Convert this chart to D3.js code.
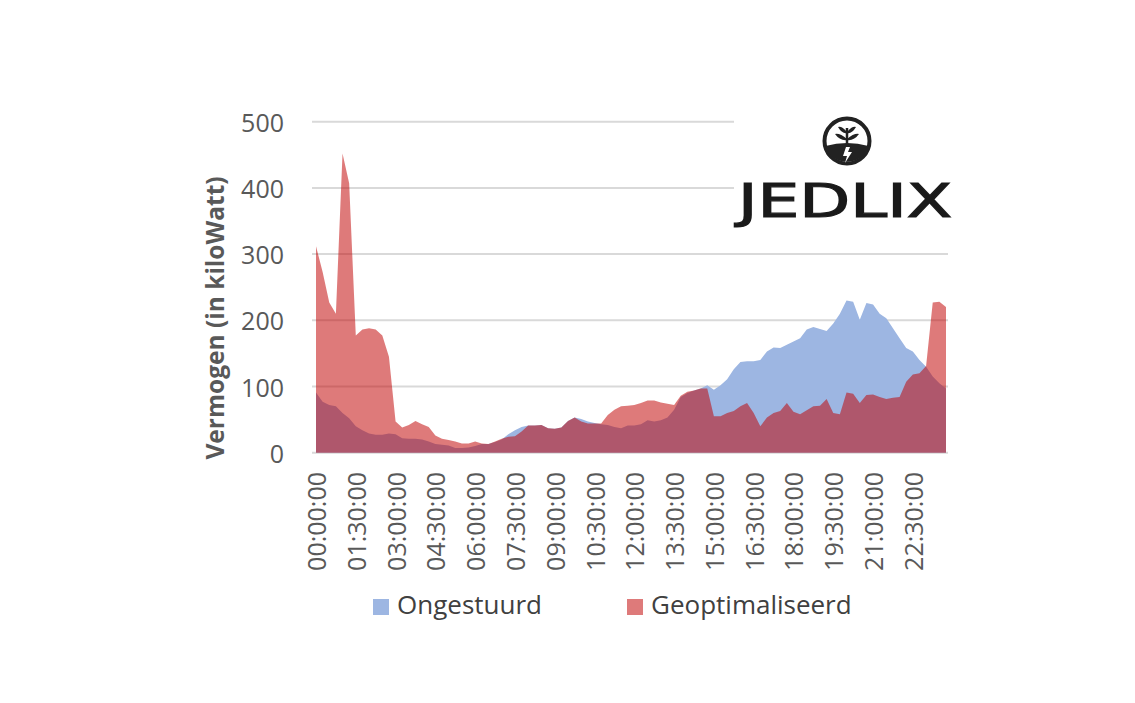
<!DOCTYPE html>
<html lang="nl">
<head>
    <meta charset="UTF-8">
    <title>Vermogen: Ongestuurd vs Geoptimaliseerd</title>
    <script src="https://d3js.org/d3.v7.min.js"></script>
    <style>
        body { margin: 0; background: #fff; font-family: "Open Sans", Arial, sans-serif; }
        #chart { display: block; }
    </style>
</head>
<body>
    <svg id="chart"></svg>
    <script>
        const width = 1135, height = 703;

        // tick labels shown under the x axis (every 1.5 hour)
        const tickLabels = ["00:00:00", "01:30:00", "03:00:00", "04:30:00", "06:00:00", "07:30:00",
            "09:00:00", "10:30:00", "12:00:00", "13:30:00", "15:00:00", "16:30:00",
            "18:00:00", "19:30:00", "21:00:00", "22:30:00"];
        const yTicks = [0, 100, 200, 300, 400, 500];
        const seriesNames = ["Ongestuurd", "Geoptimaliseerd"];

        // quarter-hour values (kW)
        const ongestuurd = [91, 77, 72, 70, 60, 52, 40, 34, 29, 27, 27, 29, 28, 22, 21, 21,
            20, 17, 13, 12, 11, 7, 7, 8, 10, 13, 13, 16, 20, 28, 34, 39,
            41, 41, 42, 37, 36, 38, 48, 53, 51, 47, 45, 43, 42, 39, 37, 41,
            41, 43, 49, 47, 49, 53, 65, 84, 90, 94, 97, 102, 95, 102, 111, 126,
            137, 138, 138, 140, 153, 159, 158, 163, 168, 173, 186, 190, 187, 184, 195, 210,
            230, 228, 201, 226, 224, 210, 203, 188, 173, 158, 153, 140, 130, 115, 105, 97];
        const geoptimaliseerd = [312, 273, 227, 210, 452, 407, 177, 186, 188, 186, 177, 145, 47, 38, 42, 48,
            43, 39, 26, 21, 19, 17, 14, 14, 17, 14, 13, 17, 21, 24, 25, 32,
            41, 41, 42, 37, 36, 38, 48, 53, 47, 44, 44, 44, 57, 65, 70, 71,
            72, 75, 79, 79, 76, 74, 72, 86, 92, 94, 97, 97, 55, 55, 60, 63,
            70, 75, 60, 40, 53, 60, 63, 75, 62, 58, 64, 70, 71, 81, 60, 58,
            91, 89, 75, 87, 88, 84, 81, 83, 84, 107, 118, 120, 131, 227, 228, 220];

        const svg = d3.select("#chart").attr("width", width).attr("height", height);

        const x = d3.scaleLinear().domain([0, ongestuurd.length - 1]).range([316, 946]);
        const y = d3.scaleLinear().domain([0, 500]).range([452.7, 121.7]);

        // gridlines
        svg.append("g").selectAll("line").data(yTicks).join("line")
            .attr("x1", 312).attr("x2", 948)
            .attr("y1", d => y(d)).attr("y2", d => y(d))
            .attr("stroke", "#d9d9d9").attr("stroke-width", 2);

        // y tick labels
        svg.append("g").selectAll("text").data(yTicks).join("text")
            .attr("x", 284).attr("y", d => y(d))
            .attr("text-anchor", "end").attr("dominant-baseline", "central")
            .attr("font-size", 25).attr("fill", "#595959")
            .text(d => d);

        // y axis title
        svg.append("text")
            .attr("transform", "translate(214,318) rotate(-90)")
            .attr("text-anchor", "middle").attr("dominant-baseline", "central")
            .attr("font-size", 24.5).attr("font-weight", "bold").attr("fill", "#595959")
            .text("Vermogen (in kiloWatt)");

        const area = vals => d3.area()
            .x((d, i) => x(i))
            .y0(y(0))
            .y1(d => y(d))(vals);

        svg.append("path").attr("d", area(ongestuurd)).attr("fill", "#9db6e2");
        svg.append("path").attr("d", area(geoptimaliseerd)).attr("fill", "#c00000").attr("fill-opacity", 0.52);

        // x tick labels (every 6th quarter)
        svg.append("g").selectAll("text").data(tickLabels).join("text")
            .attr("transform", (d, i) => `translate(${x(i * 6)},472) rotate(-90)`)
            .attr("text-anchor", "end").attr("dominant-baseline", "central")
            .attr("font-size", 25).attr("fill", "#595959")
            .text(d => d);

        // legend
        const legend = [
            { name: seriesNames[0], color: "#9db6e2", x: 373 },
            { name: seriesNames[1], color: "#de7a7a", x: 627 }
        ];
        const lg = svg.append("g").selectAll("g").data(legend).join("g")
            .attr("transform", d => `translate(${d.x},599)`);
        lg.append("rect").attr("width", 16).attr("height", 16).attr("fill", d => d.color);
        lg.append("text").attr("x", 24).attr("y", 15)
            .attr("font-size", 26).attr("fill", "#404040")
            .text(d => d.name);

        // JEDLIX logo (white box covers the gridlines behind it)
        const logo = svg.append("g");
        logo.append("rect").attr("x", 734).attr("y", 108).attr("width", 224).attr("height", 120).attr("fill", "#fff");
        logo.append("circle").attr("cx", 847).attr("cy", 141).attr("r", 22.5)
            .attr("fill", "#fff").attr("stroke", "#222").attr("stroke-width", 4);
        logo.append("path")
            .attr("d", "M825.5,146 Q847,140 868.5,146 A22.5,22.5 0 0 1 825.5,146 Z")
            .attr("fill", "#222");
        // plant
        logo.append("path").attr("d", "M847,128 L847,147").attr("stroke", "#222").attr("stroke-width", 2.5);
        logo.append("path").attr("d", "M847,139 Q840,133 835,134 Q840,141 847,140 Z").attr("fill", "#222");
        logo.append("path").attr("d", "M847,139 Q854,133 859,134 Q854,141 847,140 Z").attr("fill", "#222");
        logo.append("path").attr("d", "M847,132 Q842,126 838,127 Q842,134 847,133 Z").attr("fill", "#222");
        logo.append("path").attr("d", "M847,132 Q852,126 856,127 Q852,134 847,133 Z").attr("fill", "#222");
        // lightning bolt
        logo.append("path").attr("d", "M846,147 L843,156 L847,156 L845,163 L852,152 L848,152 L850,147 Z").attr("fill", "#fff");
        logo.append("text")
            .attr("x", 738).attr("y", 217)
            .attr("textLength", 214).attr("lengthAdjust", "spacingAndGlyphs")
            .attr("font-family", "DejaVu Sans").attr("font-size", 46).attr("fill", "#1a1a1a")
            .attr("stroke", "#1a1a1a").attr("stroke-width", 1.2)
            .text("JEDLIX");
    </script>
</body>
</html>
